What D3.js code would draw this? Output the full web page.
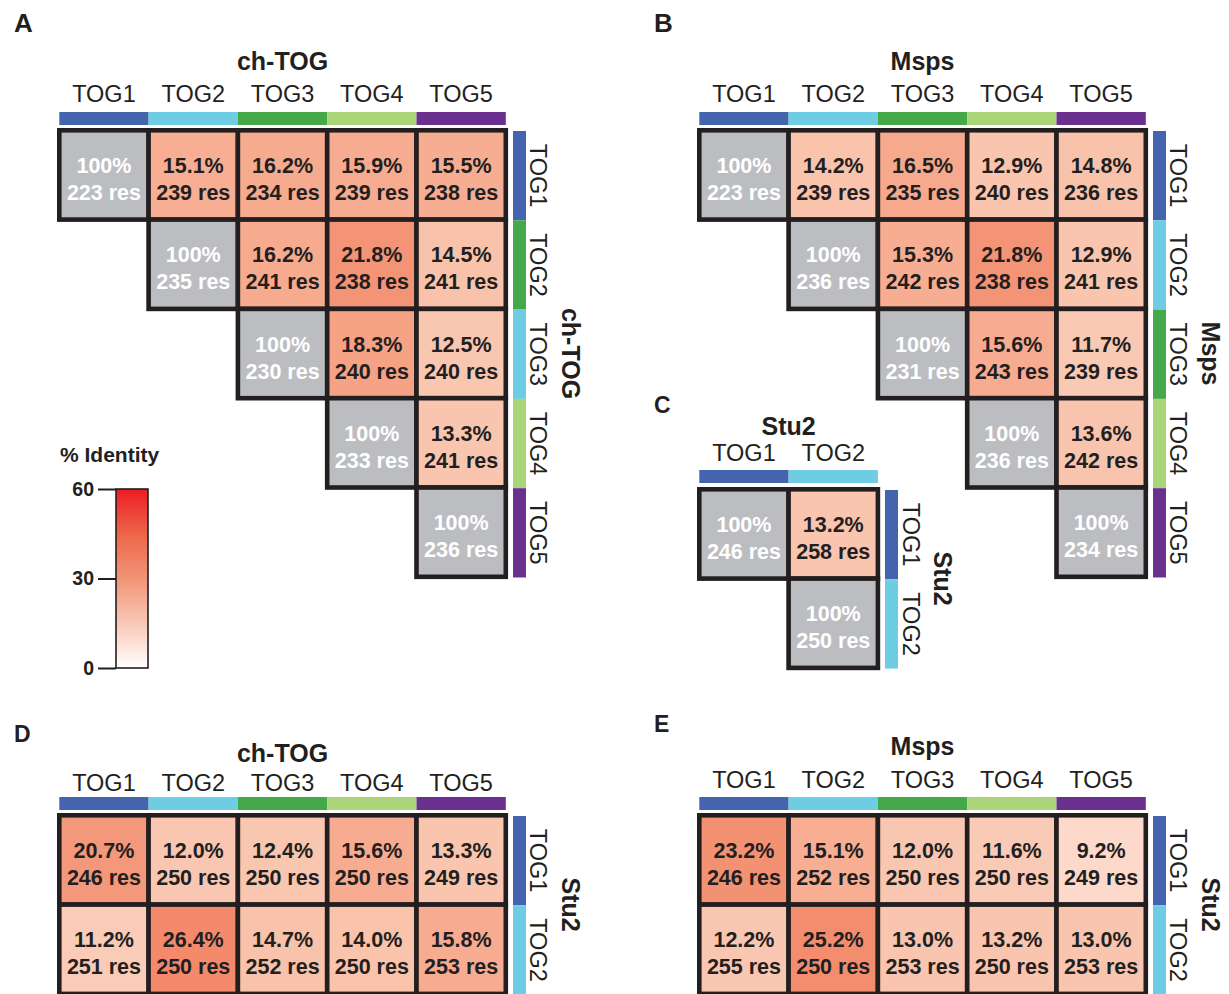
<!DOCTYPE html>
<html><head><meta charset="utf-8">
<script src="https://cdn.jsdelivr.net/npm/d3@7"></script>
<style>body{margin:0;background:#fff} svg{display:block} text{font-family:"Liberation Sans",Arial,Helvetica,sans-serif;fill:#231f20}</style>
</head><body><svg id="c" width="1229" height="994"></svg>
<script>
// ---------------- DATA ----------------
const tog5 = ["TOG1","TOG2","TOG3","TOG4","TOG5"];
const tog2 = ["TOG1","TOG2"];
const domainColors = {TOG1:"#4464ad",TOG2:"#6ecde3",TOG3:"#47a84a",TOG4:"#acd57a",TOG5:"#69308f"};
const chTogSideColors = ["#4464ad","#47a84a","#6ecde3","#acd57a","#69308f"]; // as drawn in panel A
const mspsSideColors  = ["#4464ad","#6ecde3","#47a84a","#acd57a","#69308f"];
const stu2SideColors  = ["#4464ad","#6ecde3"];

const aIdentity = [[100,15.1,16.2,15.9,15.5],[null,100,16.2,21.8,14.5],[null,null,100,18.3,12.5],[null,null,null,100,13.3],[null,null,null,null,100]];
const aRes      = [[223,239,234,239,238],[null,235,241,238,241],[null,null,230,240,240],[null,null,null,233,241],[null,null,null,null,236]];
const bIdentity = [[100,14.2,16.5,12.9,14.8],[null,100,15.3,21.8,12.9],[null,null,100,15.6,11.7],[null,null,null,100,13.6],[null,null,null,null,100]];
const bRes      = [[223,239,235,240,236],[null,236,242,238,241],[null,null,231,243,239],[null,null,null,236,242],[null,null,null,null,234]];
const cIdentity = [[100,13.2],[null,100]];
const cRes      = [[246,258],[null,250]];
const dIdentity = [[20.7,12.0,12.4,15.6,13.3],[11.2,26.4,14.7,14.0,15.8]];
const dRes      = [[246,250,250,250,249],[251,250,252,250,253]];
const eIdentity = [[23.2,15.1,12.0,11.6,9.2],[12.2,25.2,13.0,13.2,13.0]];
const eRes      = [[246,252,250,250,249],[255,250,253,250,253]];

const identityStops  = [0, 9.2, 12.0, 14.8, 15.1, 18.3, 21.8, 26.4, 60];
const identityColors = ["#ffffff","#fcd9cb","#f9c7b1","#f9c2aa","#f7ae93","#f5a285","#f39477","#f48a6b","#ed1c24"];
const legendStops  = [0, 15, 30, 45, 60];
const legendColors = ["#ffffff","#f9c8b6","#f19476","#ee6549","#ed1c24"];
const legendTicks  = [0, 30, 60];
const selfColor = "#bcbdc1";

// ---------------- DRAW ----------------
const svg = d3.select("#c");
const color = d3.scaleLinear().domain(identityStops).range(identityColors).interpolate(d3.interpolateRgb);
const P = 89.3;

function panel(cfg){
  const g = svg.append("g");
  const nC = cfg.cols.length, nR = cfg.rows.length;
  const x = d3.scaleBand().domain(d3.range(nC)).range([cfg.gx, cfg.gx + nC*P]);
  const y = d3.scaleBand().domain(d3.range(nR)).range([cfg.gy, cfg.gy + nR*P]);
  g.append("text").attr("x", cfg.gx + nC*P/2).attr("y", cfg.titleY).attr("text-anchor","middle")
    .attr("font-size",25).attr("font-weight","bold").text(cfg.title);
  g.selectAll(".cl").data(cfg.cols).join("text").attr("x",(d,i)=>x(i)+P/2).attr("y",cfg.labelY)
    .attr("text-anchor","middle").attr("font-size",23.5).text(d=>d);
  g.selectAll(".tb").data(cfg.cols).join("rect").attr("x",(d,i)=>x(i)).attr("y",cfg.barY)
    .attr("width",P).attr("height",13).attr("fill",d=>domainColors[d]);
  g.selectAll(".sb").data(cfg.rows).join("rect").attr("x",cfg.sideBarX).attr("y",(d,i)=>y(i)+0.7)
    .attr("width",13).attr("height",P).attr("fill",(d,i)=>cfg.sideColors[i]);
  g.selectAll(".sl").data(cfg.rows).join("text")
    .attr("transform",(d,i)=>`translate(${cfg.sideLabelX},${y(i)+P/2+0.7}) rotate(90)`)
    .attr("text-anchor","middle").attr("font-size",23.5).text(d=>d);
  g.append("text").attr("transform",`translate(${cfg.sideTitleX},${cfg.gy + nR*P/2}) rotate(90)`)
    .attr("text-anchor","middle").attr("font-size",25).attr("font-weight","bold").text(cfg.sideTitle);
  const cells = [];
  cfg.identity.forEach((row,r)=>row.forEach((v,c)=>{ if(v!==null) cells.push({r,c,v,res:cfg.res[r][c],self:cfg.selfDiag && r===c}); }));
  const cg = g.selectAll(".cell").data(cells).join("g");
  cg.append("rect").attr("x",d=>x(d.c)).attr("y",d=>y(d.r)).attr("width",P).attr("height",P)
    .attr("fill",d=>d.self?selfColor:color(d.v)).attr("stroke","#231f20").attr("stroke-width",4.6);
  cg.append("text").attr("x",d=>x(d.c)+P/2).attr("y",d=>y(d.r)+P/2-2).attr("text-anchor","middle")
    .attr("font-size",21.5).attr("font-weight","bold").style("fill",d=>d.self?"#ffffff":"#231f20")
    .text(d=>d.self?"100%":d.v.toFixed(1)+"%");
  cg.append("text").attr("x",d=>x(d.c)+P/2).attr("y",d=>y(d.r)+P/2+25).attr("text-anchor","middle")
    .attr("font-size",21.5).attr("font-weight","bold").style("fill",d=>d.self?"#ffffff":"#231f20")
    .text(d=>d.res+" res");
}

panel({title:"ch-TOG",sideTitle:"ch-TOG",cols:tog5,rows:tog5,sideColors:chTogSideColors,identity:aIdentity,res:aRes,selfDiag:true,
  gx:59.3,gy:130.3,titleY:70,labelY:102,barY:112,sideBarX:513,sideLabelX:530,sideTitleX:562});
panel({title:"Msps",sideTitle:"Msps",cols:tog5,rows:tog5,sideColors:mspsSideColors,identity:bIdentity,res:bRes,selfDiag:true,
  gx:699.3,gy:130.3,titleY:70,labelY:102,barY:112,sideBarX:1153,sideLabelX:1170,sideTitleX:1202});
panel({title:"Stu2",sideTitle:"Stu2",cols:tog2,rows:tog2,sideColors:stu2SideColors,identity:cIdentity,res:cRes,selfDiag:true,
  gx:699.3,gy:489.3,titleY:435,labelY:461,barY:470,sideBarX:885,sideLabelX:903,sideTitleX:934});
panel({title:"ch-TOG",sideTitle:"Stu2",cols:tog5,rows:tog2,sideColors:stu2SideColors,identity:dIdentity,res:dRes,selfDiag:false,
  gx:59.3,gy:815.3,titleY:762,labelY:791,barY:797,sideBarX:513,sideLabelX:530,sideTitleX:562});
panel({title:"Msps",sideTitle:"Stu2",cols:tog5,rows:tog2,sideColors:stu2SideColors,identity:eIdentity,res:eRes,selfDiag:false,
  gx:699.3,gy:815.3,titleY:755,labelY:788,barY:797,sideBarX:1153,sideLabelX:1170,sideTitleX:1202});

[["A",14,32,26],["B",654,32,26],["C",654,413,23],["D",14,742,23],["E",654,732,23]].forEach(([t,lx,ly,fs])=>{
  svg.append("text").attr("x",lx).attr("y",ly).attr("font-size",fs).attr("font-weight","bold").text(t);
});

// legend
const defs = svg.append("defs");
const grad = defs.append("linearGradient").attr("id","lg").attr("x1",0).attr("y1",1).attr("x2",0).attr("y2",0);
legendStops.forEach((s,i)=>grad.append("stop").attr("offset",s/60).attr("stop-color",legendColors[i]));
const ly = d3.scaleLinear().domain([0,60]).range([668,489]);
svg.append("text").attr("x",60).attr("y",462).attr("font-size",21).attr("font-weight","bold").text("% Identity");
svg.append("rect").attr("x",116).attr("y",ly(60)).attr("width",32).attr("height",ly(0)-ly(60))
  .attr("fill","url(#lg)").attr("stroke","#231f20").attr("stroke-width",1.6);
const axis = d3.axisLeft(ly).tickValues(legendTicks).tickSize(18).tickPadding(4);
const ag = svg.append("g").attr("transform","translate(116,0)").call(axis);
ag.select(".domain").remove();
ag.selectAll("line").attr("stroke","#231f20").attr("stroke-width",2);
ag.selectAll("text").attr("font-size",19.5).attr("font-weight","bold")
  .attr("font-family","Liberation Sans, Arial, sans-serif").style("fill","#231f20");
</script></body></html>
